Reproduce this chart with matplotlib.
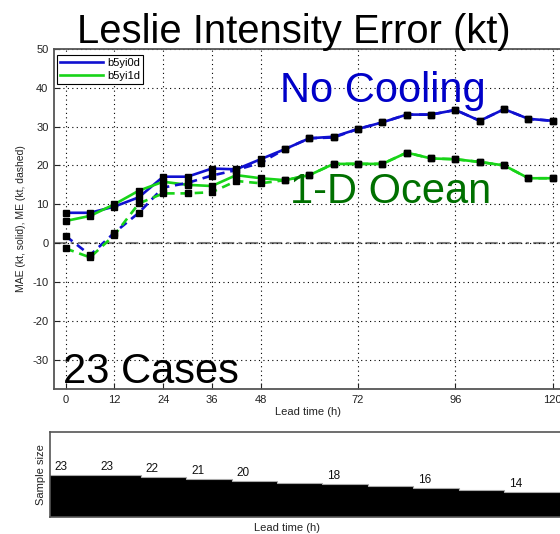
import matplotlib
matplotlib.use("Agg")
import matplotlib.pyplot as plt
import numpy as np

plt.rcParams['font.family'] = ['Liberation Sans', 'DejaVu Sans']
plt.rcParams['axes.unicode_minus'] = False

# ---- data ----
lead_hours = [0, 6, 12, 18, 24, 30, 36, 42, 48, 54, 60, 66, 72, 78, 84, 90, 96, 102, 108, 114, 120]
mae_nocool = [7.8, 7.8, 9.4, 11.8, 17.1, 17.1, 19.2, 19.0, 21.6, 24.2, 27.0, 27.4, 29.4, 31.1, 33.1, 33.1, 34.3, 31.5, 34.5, 32.0, 31.5]
me_nocool = [1.8, -3.1, 2.7, 7.8, 14.3, 15.5, 17.4, 18.8, 20.7, 24.2, 27.0, 27.2, 29.4, 31.1, 33.1, 33.1, 34.3, 31.5, 34.5, 32.0, 31.5]
mae_ocean = [5.7, 7.0, 10.0, 13.5, 15.8, 15.0, 14.7, 17.5, 16.7, 16.2, 17.5, 20.4, 20.4, 20.4, 23.3, 21.8, 21.6, 20.9, 20.0, 16.7, 16.7]
me_ocean = [-1.4, -3.7, 2.1, 10.2, 12.8, 12.8, 13.1, 16.0, 15.4, 16.2, 17.5, 20.4, 20.4, 20.4, 23.3, 21.8, 21.6, 20.9, 20.0, 16.7, 16.7]

series_names = ['b5yi0d', 'b5yi1d']
xticks = [0, 12, 24, 36, 48, 72, 96, 120]
yticks = [-30, -20, -10, 0, 10, 20, 30, 40, 50]

sample_hours = [0, 12, 24, 36, 48, 60, 72, 84, 96, 108, 120]
sample_size = [23, 23, 22, 21, 20, 19, 18, 17, 16, 15, 14]
labelled_hours = [0, 12, 24, 36, 48, 72, 96, 120]

# ---- figure ----
W, H = 560, 534
fig = plt.figure(figsize=(W / 100, H / 100), dpi=100)

def px_axes(left, top, right, bottom):
    return fig.add_axes([left / W, 1 - bottom / H, (right - left) / W, (bottom - top) / H])

blue = '#1010d0'
green = '#18d418'

ax = px_axes(54, 49, 563, 389)
ax.set_xlim(-2.9, 122.5)
ax.set_ylim(-37.6, 50)

ax.axhline(0, color='#808080', lw=1.5, linestyle=(0, (6, 2, 1.5, 2)), zorder=1)

lw = 1.9
dash = (0, (3.2, 2.2))
ax.plot(lead_hours, mae_nocool, color=blue, lw=lw, zorder=3, label=series_names[0])
ax.plot(lead_hours, mae_ocean, color=green, lw=lw, zorder=3, label=series_names[1])
ax.plot(lead_hours, me_nocool, color=blue, lw=lw, linestyle=dash, zorder=3)
ax.plot(lead_hours, me_ocean, color=green, lw=lw, linestyle=dash, zorder=3)
for s in (mae_nocool, mae_ocean, me_nocool, me_ocean):
    ax.plot(lead_hours, s, linestyle='none', marker='s', ms=4, color='black', zorder=4)

ax.set_xticks(xticks)
ax.set_yticks(yticks)
ax.grid(True, color='black', linestyle=(0, (1, 3)), lw=0.8)
ax.tick_params(direction='in', labelsize=8, length=4, colors='#222222', pad=4)
for sp in ax.spines.values():
    sp.set_color('#555555')
    sp.set_linewidth(1.3)

ax.set_ylabel('MAE (kt, solid), ME (kt, dashed)', fontsize=7.5, color='#222222')
ax.yaxis.set_label_coords(-(54 - 26) / 509, 0.5)
ax.set_xlabel('Lead time (h)', fontsize=8, color='#222222')
ax.xaxis.set_label_coords((308 - 54) / (563 - 54), -(407 - 389) / 340)

leg = ax.legend(loc='upper left', bbox_to_anchor=(0.006, 0.983), borderaxespad=0,
                fontsize=8, handlelength=3.8, fancybox=False, framealpha=1,
                edgecolor='black', borderpad=0.3, labelspacing=0.25, handletextpad=0.4)
leg.get_frame().set_linewidth(0.8)

ax.text(52.8, 36.4, 'No Cooling', color='#0000c8', fontsize=30, ha='left', va='baseline', zorder=5)
ax.text(55.3, 10.3, '1-D Ocean', color='#007000', fontsize=30, ha='left', va='baseline', zorder=5)
ax.text(-0.7, -36.1, '23 Cases', color='black', fontsize=30, ha='left', va='baseline', zorder=5)

fig.text(294 / W, 1 - 43 / H, 'Leslie Intensity Error (kt)', fontsize=28.8, ha='center', va='baseline')

# ---- sample size panel ----
bx = px_axes(50, 432, 620, 517)
xmax = 570 / 3.783
bx.set_xlim(0, xmax)
bx.set_ylim(0, 47)
edges = list(sample_hours) + [xmax]
vals = list(sample_size) + [sample_size[-1]]
bx.fill_between(edges, vals, step='post', color='black', lw=0)
bx.step(edges, vals, where='post', color='#aaaaaa', lw=0.8)
for h, n in zip(sample_hours, sample_size):
    if h in labelled_hours:
        bx.text(h + 1.3, n + 1.2, str(n), fontsize=8.5, ha='left', va='bottom', color='#111111')
bx.set_xticks([])
bx.set_yticks([])
for sp in bx.spines.values():
    sp.set_color('#555555')
    sp.set_linewidth(1.2)
bx.set_ylabel('Sample size', fontsize=8, color='#222222')
bx.yaxis.set_label_coords(-(50 - 46) / 570, 0.5)
bx.set_xlabel('Lead time (h)', fontsize=8, color='#222222')
bx.xaxis.set_label_coords((287 - 50) / 570, -(523 - 517) / 85)

fig.savefig('out.png', dpi=100)
